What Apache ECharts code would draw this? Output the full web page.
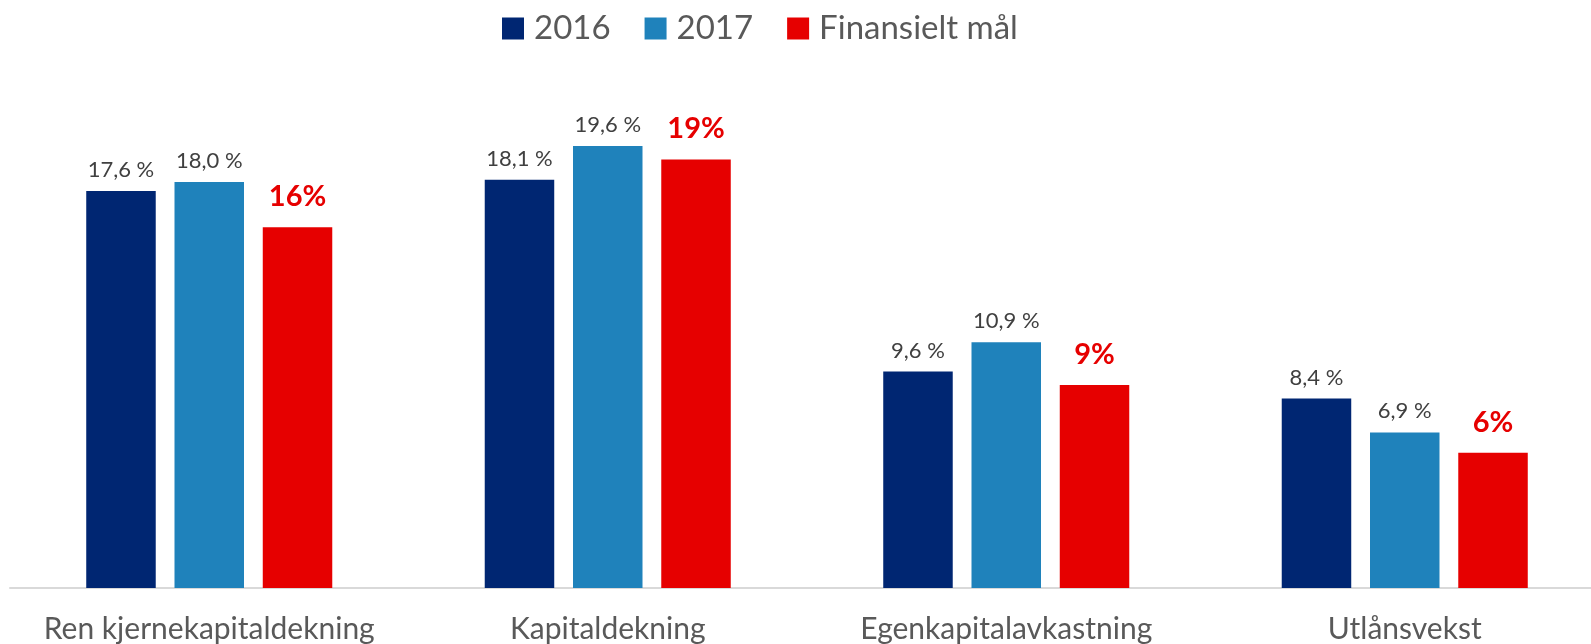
<!DOCTYPE html>
<html>
<head>
<meta charset="utf-8">
<script src="https://cdn.jsdelivr.net/npm/echarts@6/dist/echarts.min.js"></script>
<style>html,body{margin:0;padding:0;background:#fff;overflow:hidden;width:1591px;height:644px;}#c{width:1610px;height:644px;}</style>
</head>
<body>
<div id="c"></div>
<script>
const categories = ['Ren kjernekapitaldekning', 'Kapitaldekning', 'Egenkapitalavkastning', 'Utlånsvekst'];
const seriesNames = ['2016', '2017', 'Finansielt mål'];
const values2016 = [17.6, 18.1, 9.6, 8.4];
const values2017 = [18.0, 19.6, 10.9, 6.9];
const valuesTarget = [16, 19, 9, 6];

const FONT = 'Lato';
const chart = echarts.init(document.getElementById('c'), null, {renderer: 'canvas'});
const fmtDec = p => p.value.toFixed(1).replace('.', ',') + ' %';
const fmtInt = p => p.value + '%';
const grayLabel = {show: true, position: 'top', distance: 10, color: '#404040', fontSize: 22, fontFamily: FONT, formatter: fmtDec};
chart.setOption({
  animation: false,
  legend: {
    left: 497, top: 7,
    itemWidth: 22, itemHeight: 22, itemGap: 34,
    icon: 'rect',
    textStyle: {color: '#595959', fontSize: 33, fontFamily: FONT, padding: [0, 0, 0, 5]},
    data: seriesNames
  },
  grid: {left: 10, width: 1594, top: 137, height: 451, containLabel: false},
  xAxis: {
    type: 'category', data: categories,
    axisLine: {lineStyle: {color: '#D9D9D9', width: 2}},
    axisTick: {show: false},
    axisLabel: {color: '#595959', fontSize: 30, fontFamily: FONT, margin: 26, interval: 0}
  },
  yAxis: {type: 'value', min: 0, max: 20, show: false, splitLine: {show: false}},
  series: [
    {name: seriesNames[0], type: 'bar', data: values2016, barWidth: 69.5, barGap: '27%', itemStyle: {color: '#002672'}, label: grayLabel},
    {name: seriesNames[1], type: 'bar', data: values2017, barWidth: 69.5, barGap: '27%', itemStyle: {color: '#1F82BB'}, label: grayLabel},
    {name: seriesNames[2], type: 'bar', data: valuesTarget, barWidth: 69.5, barGap: '27%', itemStyle: {color: '#E60000'},
     label: {show: true, position: 'top', distance: 16, color: '#E60000', fontSize: 29, fontWeight: 'bold', fontFamily: FONT, formatter: fmtInt}}
  ]
});
</script>
</body>
</html>
